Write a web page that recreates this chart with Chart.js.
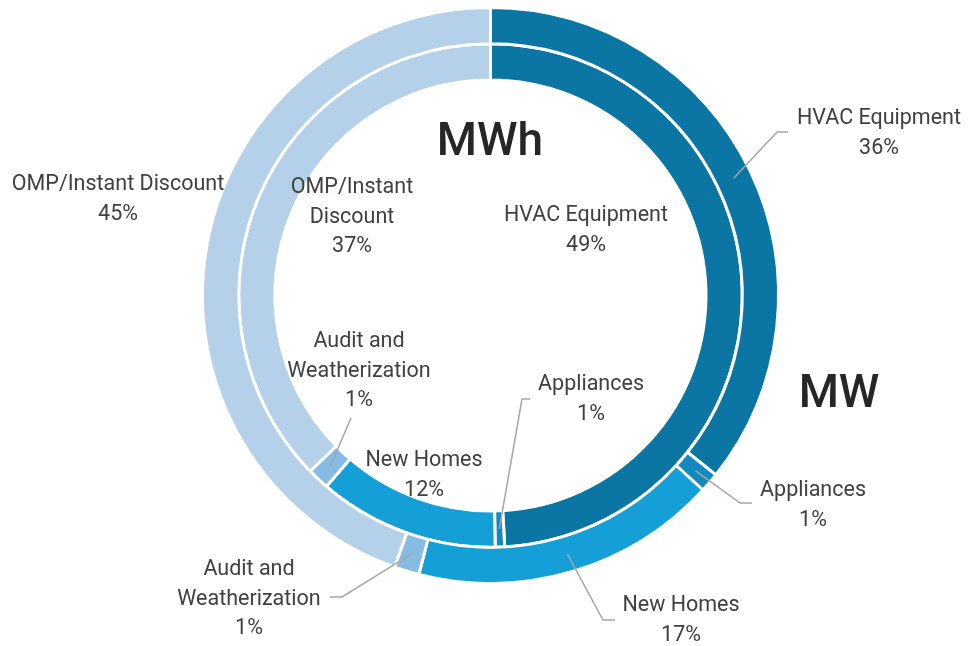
<!DOCTYPE html>
<html>
<head>
<meta charset="utf-8">
<script src="https://cdn.jsdelivr.net/npm/chart.js@4.4.1/dist/chart.umd.min.js"></script>
<style>
  html, body { margin: 0; padding: 0; background: #fff; }
  #wrap { position: relative; width: 968px; height: 646px; }
</style>
</head>
<body>
<div id="wrap"><canvas id="chart"></canvas></div>
<script>
const categories = ['HVAC Equipment', 'Appliances', 'New Homes', 'Audit and Weatherization', 'OMP/Instant Discount']
const mwValues = [35.7, 1.1, 17.2, 1.4, 44.6]
const mwhValues = [49.1, 0.6, 11.6, 1.4, 37.3]
const colors = ['#0b76a3', '#1389bf', '#14a0d7', '#86bbe3', '#b5d1ea']

// label placement: ring 0 = outer (MW), ring 1 = inner (MWh)
const labelLayout = [
  { ring: 0, index: 0, x: 879, y: 119, lines: ['HVAC Equipment'], elbow: [[788, 132], [777, 132]] },
  { ring: 0, index: 1, x: 813, y: 491, lines: ['Appliances'], elbow: [[752, 503], [740, 503]] },
  { ring: 0, index: 2, x: 681, y: 606, lines: ['New Homes'], elbow: [[615, 620], [603, 620]] },
  { ring: 0, index: 3, x: 249, y: 570, lines: ['Audit and', 'Weatherization'], elbow: [[330, 597], [342, 597]] },
  { ring: 0, index: 4, x: 118, y: 185, lines: ['OMP/Instant Discount'] },
  { ring: 1, index: 0, x: 586, y: 216, lines: ['HVAC Equipment'] },
  { ring: 1, index: 1, x: 591, y: 385, lines: ['Appliances'], elbow: [[530, 399], [522, 399]] },
  { ring: 1, index: 2, x: 424, y: 461, lines: ['New Homes'] },
  { ring: 1, index: 3, x: 359, y: 342, lines: ['Audit and', 'Weatherization'], elbow: [[351, 418]] },
  { ring: 1, index: 4, x: 352, y: 188, lines: ['OMP/Instant', 'Discount'] }
]

const ringTitles = [
  { text: 'MW', x: 839, y: 395 },
  { text: 'MWh', x: 490, y: 143 }
]

const labelPlugin = {
  id: 'ringLabels',
  afterDraw(chart) {
    const ctx = chart.ctx
    ctx.save()
    ctx.textAlign = 'center'
    ctx.textBaseline = 'middle'

    labelLayout.forEach(l => {
      const values = chart.data.datasets[l.ring].data
      const total = values.reduce((a, b) => a + b, 0)
      const pct = Math.round(values[l.index] / total * 100) + '%'

      if (l.elbow) {
        const arc = chart.getDatasetMeta(l.ring).data[l.index]
        const c = arc.getCenterPoint()
        ctx.strokeStyle = '#a6a6a6'
        ctx.lineWidth = 1.5
        ctx.beginPath()
        ctx.moveTo(l.elbow[0][0], l.elbow[0][1])
        for (let i = 1; i < l.elbow.length; i++) ctx.lineTo(l.elbow[i][0], l.elbow[i][1])
        ctx.lineTo(c.x, c.y)
        ctx.stroke()
      }

      ctx.fillStyle = '#404040'
      ctx.font = '21.5px Roboto'
      const lines = l.lines.concat([pct])
      lines.forEach((t, i) => ctx.fillText(t, l.x, l.y + i * 29.5))
    })

    ctx.fillStyle = '#262626'
    ctx.font = '500 46px Roboto'
    ringTitles.forEach(t => ctx.fillText(t.text, t.x, t.y))
    ctx.restore()
  }
}

new Chart(document.getElementById('chart'), {
  type: 'doughnut',
  data: {
    labels: categories,
    datasets: [
      { label: 'MW', data: mwValues, backgroundColor: colors, borderColor: '#ffffff', borderWidth: 3 },
      { label: 'MWh', data: mwhValues, backgroundColor: colors, borderColor: '#ffffff', borderWidth: 3 }
    ]
  },
  options: {
    responsive: true,
    maintainAspectRatio: false,
    animation: false,
    cutout: '74.83%',
    layout: {
      padding: { left: 201, top: 6, right: 188, bottom: 61 }
    },
    plugins: {
      legend: { display: false },
      tooltip: { enabled: false }
    }
  },
  plugins: [labelPlugin]
})
</script>
</body>
</html>
